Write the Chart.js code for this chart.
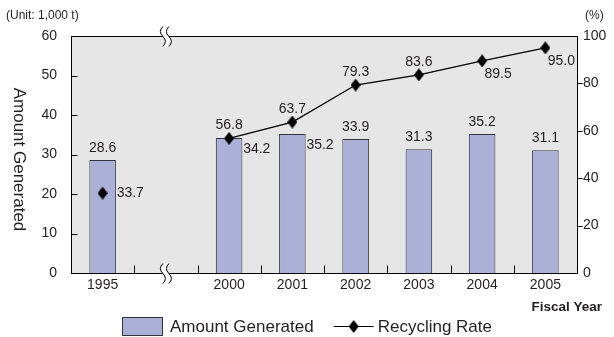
<!DOCTYPE html>
<html>
<head>
<meta charset="utf-8">
<script src="https://cdn.jsdelivr.net/npm/chart.js@4.4.1/dist/chart.umd.min.js"></script>
<style>
  html, body { margin: 0; padding: 0; background: #fff; }
  #wrap { width: 614px; height: 337px; }
</style>
</head>
<body>
<div id="wrap"><canvas id="myChart" width="614" height="337"></canvas></div>
<script>
// fiscal years, with an empty slot where the axis is broken
const years = ["1995", "", "2000", "2001", "2002", "2003", "2004", "2005"];
// amount generated (1,000 t)
const amountGenerated = [28.6, null, 34.2, 35.2, 33.9, 31.3, 35.2, 31.1];
// recycling rate (%)
const recyclingRate = [33.7, null, 56.8, 63.7, 79.3, 83.6, 89.5, 95.0];
const amountTicks = [0, 10, 20, 30, 40, 50, 60];
const rateTicks = [0, 20, 40, 60, 80, 100];

const FONT = "'Liberation Sans', Arial, sans-serif";
const TEXT = "#231f20";
const BAR_FILL = "#aab0d6";
const BAR_EDGE = "#33333f";

// where each value label sits relative to its mark
const barLabelSide = ["above", "", "right", "right", "above", "above", "above", "above"];
const rateLabelSide = ["right", "", "above", "above", "above", "above", "belowRight", "belowRight"];

// tall diamond marker
function makeDiamond(w, h) {
  const c = document.createElement("canvas");
  c.width = w; c.height = h;
  const g = c.getContext("2d");
  g.fillStyle = "#000";
  g.beginPath();
  g.moveTo(w / 2, 0);
  g.lineTo(w, h / 2);
  g.lineTo(w / 2, h);
  g.lineTo(0, h / 2);
  g.closePath();
  g.fill();
  return c;
}
const diamond = makeDiamond(10, 13);

function drawBreak(ctx, x, y) {
  const gap = 3;
  ctx.save();
  // white strip between the two squiggles
  ctx.fillStyle = "#fff";
  ctx.beginPath();
  ctx.moveTo(x - gap, y - 10);
  ctx.quadraticCurveTo(x - gap - 5, y - 5, x - gap, y);
  ctx.quadraticCurveTo(x - gap + 5, y + 5, x - gap, y + 10);
  ctx.lineTo(x + gap, y + 10);
  ctx.quadraticCurveTo(x + gap + 5, y + 5, x + gap, y);
  ctx.quadraticCurveTo(x + gap - 5, y - 5, x + gap, y - 10);
  ctx.closePath();
  ctx.fill();
  ctx.strokeStyle = "#000";
  ctx.lineWidth = 1;
  [x - gap, x + gap].forEach((sx) => {
    ctx.beginPath();
    ctx.moveTo(sx, y - 10);
    ctx.quadraticCurveTo(sx - 5, y - 5, sx, y);
    ctx.quadraticCurveTo(sx + 5, y + 5, sx, y + 10);
    ctx.stroke();
  });
  ctx.restore();
}

const decor = {
  id: "decor",
  beforeDatasetsDraw(chart) {
    const { ctx, chartArea: a } = chart;
    ctx.save();
    ctx.fillStyle = "#e6e6e6";
    ctx.fillRect(a.left, a.top, a.right - a.left, a.bottom - a.top);
    ctx.restore();
  },
  afterDatasetsDraw(chart) {
    const { ctx, chartArea: a, scales } = chart;
    const L = Math.round(a.left) + 0.5, R = Math.round(a.right) + 0.5;
    const T = Math.round(a.top) + 0.5, B = Math.round(a.bottom) + 0.5;
    ctx.save();
    ctx.strokeStyle = "#000";
    ctx.lineWidth = 1;
    ctx.strokeRect(L, T, R - L, B - T);

    ctx.beginPath();
    // left ticks point inward
    amountTicks.slice(1, -1).forEach((v) => {
      const y = Math.round(scales.y.getPixelForValue(v)) + 0.5;
      ctx.moveTo(L, y); ctx.lineTo(L + 6, y);
    });
    // right ticks point outward
    rateTicks.slice(1, -1).forEach((v) => {
      const y = Math.round(scales.y1.getPixelForValue(v)) + 0.5;
      ctx.moveTo(R, y); ctx.lineTo(R + 5, y);
    });
    // category boundary ticks along the bottom
    const xs = scales.x;
    for (let i = 1; i < years.length; i++) {
      const x = Math.round((xs.getPixelForValue(i - 1) + xs.getPixelForValue(i)) / 2) + 0.5;
      ctx.moveTo(x, B); ctx.lineTo(x, B - 8);
    }
    ctx.stroke();
    ctx.restore();

    const bx = xs.getPixelForValue(1);
    drawBreak(ctx, bx, T);
    drawBreak(ctx, bx, B);
  },
  afterDraw(chart) {
    const { ctx, chartArea: a } = chart;
    ctx.save();
    ctx.fillStyle = TEXT;
    ctx.textBaseline = "middle";

    // value labels
    ctx.font = "14px " + FONT;
    const bars = chart.getDatasetMeta(0).data;
    bars.forEach((el, i) => {
      const v = amountGenerated[i];
      if (v == null) return;
      if (barLabelSide[i] === "right") {
        ctx.textAlign = "left";
        ctx.fillText(v.toFixed(1), el.x + 14, el.y + 11);
      } else {
        ctx.textAlign = "center";
        ctx.fillText(v.toFixed(1), el.x, el.y - 12);
      }
    });
    const pts = chart.getDatasetMeta(1).data;
    pts.forEach((el, i) => {
      const v = recyclingRate[i];
      if (v == null) return;
      const side = rateLabelSide[i];
      if (side === "right") {
        ctx.textAlign = "left";
        ctx.fillText(v.toFixed(1), el.x + 14, el.y);
      } else if (side === "belowRight") {
        ctx.textAlign = "center";
        ctx.fillText(v.toFixed(1), el.x + 16, el.y + 13);
      } else {
        ctx.textAlign = "center";
        ctx.fillText(v.toFixed(1), el.x, el.y - 13);
      }
    });

    // units and axis captions
    ctx.font = "12px " + FONT;
    ctx.textAlign = "left";
    ctx.fillText("(Unit: 1,000 t)", 6, 16);
    ctx.fillText("(%)", 585, 16);
    ctx.font = "bold 13.5px " + FONT;
    ctx.textAlign = "right";
    ctx.fillText("Fiscal Year", 602, 307);

    ctx.save();
    ctx.translate(19, (a.top + a.bottom) / 2 + 5);
    ctx.rotate(Math.PI / 2);
    ctx.font = "17px " + FONT;
    ctx.textAlign = "center";
    ctx.fillText("Amount Generated", 0, 0);
    ctx.restore();

    // legend
    ctx.font = "17px " + FONT;
    const t1 = "Amount Generated", t2 = "Recycling Rate";
    const w1 = ctx.measureText(t1).width, w2 = ctx.measureText(t2).width;
    const total = 40 + 8 + w1 + 20 + 40 + 4 + w2;
    let x = Math.round((chart.width - total) / 2);
    const ly = 326;
    ctx.fillStyle = BAR_FILL;
    ctx.fillRect(x + 0.5, ly - 9 + 0.5, 40, 18);
    ctx.strokeStyle = BAR_EDGE;
    ctx.lineWidth = 1;
    ctx.strokeRect(x + 0.5, ly - 9 + 0.5, 40, 18);
    ctx.fillStyle = TEXT;
    ctx.textAlign = "left";
    ctx.fillText(t1, x + 48, ly + 1);
    x += 48 + w1 + 20;
    ctx.strokeStyle = "#000";
    ctx.beginPath();
    ctx.moveTo(x, ly + 0.5); ctx.lineTo(x + 40, ly + 0.5);
    ctx.stroke();
    ctx.drawImage(diamond, x + 15, ly - 6);
    ctx.fillStyle = TEXT;
    ctx.fillText(t2, x + 44, ly + 1);
    ctx.restore();
  }
};

const data = {
  labels: years,
  datasets: [
    {
      type: "bar",
      label: "Amount Generated",
      data: amountGenerated,
      yAxisID: "y",
      backgroundColor: BAR_FILL,
      borderColor: BAR_EDGE,
      borderWidth: 1,
      barPercentage: 0.42,
      categoryPercentage: 1.0,
      order: 2
    },
    {
      type: "line",
      label: "Recycling Rate",
      data: recyclingRate,
      yAxisID: "y1",
      borderColor: "#000",
      borderWidth: 1.3,
      pointStyle: diamond,
      spanGaps: false,
      tension: 0,
      order: 1
    }
  ]
};

const config = {
  type: "bar",
  data: data,
  options: {
    responsive: false,
    animation: false,
    layout: { padding: { left: 0, right: 0, top: 36, bottom: 0 } },
    plugins: {
      legend: { display: false },
      tooltip: { enabled: false }
    },
    scales: {
      x: {
        grid: { display: false, drawTicks: false },
        border: { display: false },
        ticks: { color: TEXT, font: { family: FONT, size: 14 }, padding: 4, maxRotation: 0 },
        afterFit: (s) => { s.height = 64; }
      },
      y: {
        position: "left",
        min: 0, max: 60,
        grid: { display: false, drawTicks: false },
        border: { display: false },
        ticks: { stepSize: 10, color: TEXT, font: { family: FONT, size: 14 }, padding: 14 },
        afterFit: (s) => { s.width = 71; }
      },
      y1: {
        position: "right",
        min: 0, max: 100,
        grid: { display: false, drawTicks: false },
        border: { display: false },
        ticks: { stepSize: 20, color: TEXT, font: { family: FONT, size: 14 }, padding: 6 },
        afterFit: (s) => { s.width = 37; }
      }
    }
  },
  plugins: [decor]
};

const ctx = document.getElementById("myChart").getContext("2d");
const myChart = new Chart(ctx, config);
</script>
</body>
</html>
